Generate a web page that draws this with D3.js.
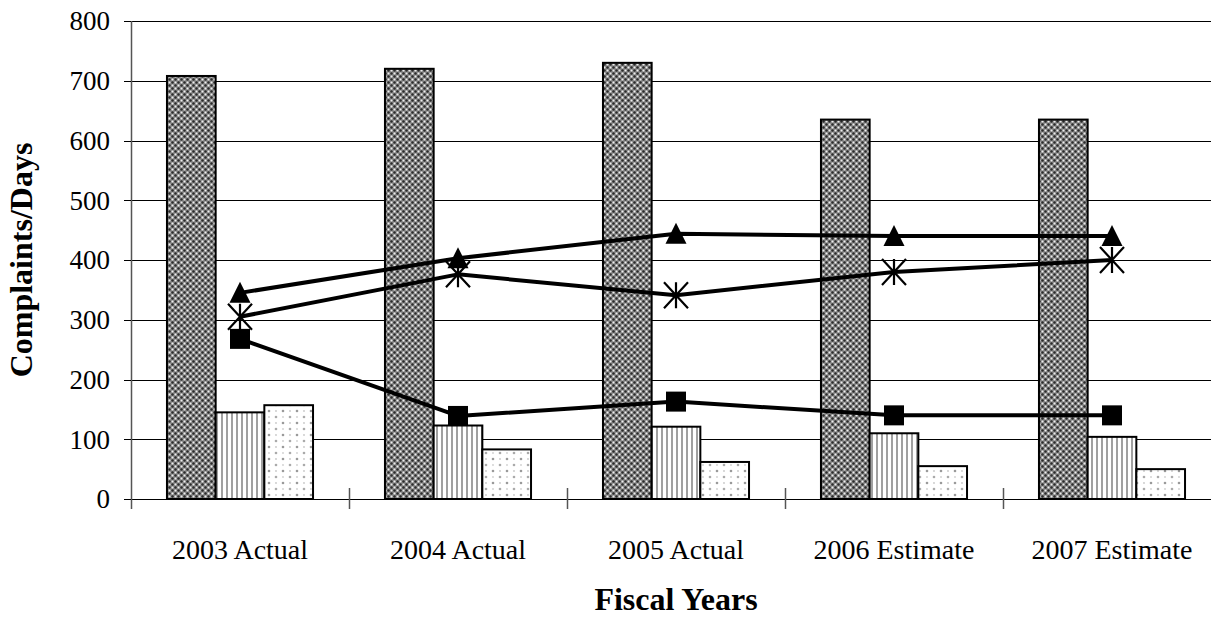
<!DOCTYPE html>
<html><head><meta charset="utf-8">
<script src="https://cdn.jsdelivr.net/npm/d3@7"></script>
<style>body{margin:0;background:#fff}svg{display:block}</style>
</head><body>
<svg id="c" width="1211" height="617"></svg>
<script>
const categories = ["2003 Actual","2004 Actual","2005 Actual","2006 Estimate","2007 Estimate"];
const barSeries = ["checker","stripes","dots"];
const checkerValues = [708, 720, 730, 635, 635];
const stripeValues = [145, 123, 121, 110, 104];
const dotValues = [157, 83, 62, 55, 50];
const triangleValues = [345, 403, 444, 440, 440];
const starValues = [305, 376, 341, 380, 400];
const squareValues = [268, 139, 163, 140, 140];
const yTicks = [0,100,200,300,400,500,600,700,800];
const xTitle = "Fiscal Years";
const yTitle = "Complaints/Days";

const svg = d3.select("#c");
const font = "Liberation Serif";
const defs = svg.append("defs");
// checker pattern
const p1 = defs.append("pattern").attr("id","pChecker").attr("patternUnits","userSpaceOnUse").attr("width",6).attr("height",6);
p1.append("rect").attr("width",6).attr("height",6).attr("fill","#8a8a8a");
p1.append("circle").attr("cx",1.5).attr("cy",1.5).attr("r",1.2).attr("fill","#2a2a2a");
p1.append("circle").attr("cx",4.5).attr("cy",4.5).attr("r",1.2).attr("fill","#2a2a2a");
p1.append("circle").attr("cx",4.5).attr("cy",1.5).attr("r",1.0).attr("fill","#eeeeee");
p1.append("circle").attr("cx",1.5).attr("cy",4.5).attr("r",1.0).attr("fill","#eeeeee");
// stripes
const p2 = defs.append("pattern").attr("id","pStripes").attr("patternUnits","userSpaceOnUse").attr("width",5).attr("height",10);
p2.append("rect").attr("width",5).attr("height",10).attr("fill","#fff");
p2.append("rect").attr("x",1).attr("width",2).attr("height",10).attr("fill","#a0a0a0");
// dots
const p3 = defs.append("pattern").attr("id","pDots").attr("patternUnits","userSpaceOnUse").attr("width",14).attr("height",12);
p3.append("rect").attr("width",14).attr("height",12).attr("fill","#fff");
p3.append("circle").attr("cx",3).attr("cy",3).attr("r",1.3).attr("fill","#9a9a9a");
p3.append("circle").attr("cx",10).attr("cy",9).attr("r",1.3).attr("fill","#aaa");
p3.append("circle").attr("cx",10).attr("cy",3).attr("r",0.9).attr("fill","#c8c8c8");
p3.append("circle").attr("cx",3).attr("cy",9).attr("r",0.9).attr("fill","#d0d0d0");

const fills = {checker:"url(#pChecker)", stripes:"url(#pStripes)", dots:"url(#pDots)"};
const barData = {checker:checkerValues, stripes:stripeValues, dots:dotValues};

const x0 = d3.scaleBand().domain(categories).range([131, 1221]).padding(0);
const bw = x0.bandwidth();
const x1 = d3.scaleBand().domain(barSeries).range([bw*0.165, bw*0.835]).padding(0);
const y = d3.scaleLinear().domain([0,800]).range([499, 21]);

// gridlines
svg.append("g").selectAll("line").data(yTicks.filter(d=>d>0)).join("line")
  .attr("x1",131).attr("x2",1221).attr("y1",d=>Math.round(y(d))+0.5).attr("y2",d=>Math.round(y(d))+0.5)
  .attr("stroke","#000").attr("stroke-width",1);

// bars
const gb = svg.append("g");
categories.forEach((c,i)=>{
  barSeries.forEach(s=>{
    const v = barData[s][i];
    gb.append("rect")
      .attr("x", x0(c)+x1(s)).attr("width", x1.bandwidth())
      .attr("y", y(v)).attr("height", y(0)-y(v))
      .attr("fill", fills[s]).attr("stroke","#000").attr("stroke-width",2);
  });
});

// axes
const ax = svg.append("g");
ax.append("line").attr("x1",131).attr("x2",1221).attr("y1",499.5).attr("y2",499.5).attr("stroke","#000").attr("stroke-width",1.2);
ax.append("line").attr("x1",131.5).attr("x2",131.5).attr("y1",21).attr("y2",509).attr("stroke","#555").attr("stroke-width",1.5);
ax.selectAll(".yt").data(yTicks).join("line").attr("class","yt")
  .attr("x1",124).attr("x2",131).attr("y1",d=>Math.round(y(d))+0.5).attr("y2",d=>Math.round(y(d))+0.5).attr("stroke","#000");
ax.selectAll(".xt").data(categories.slice(1)).join("line").attr("class","xt")
  .attr("x1",d=>Math.round(x0(d))+0.5).attr("x2",d=>Math.round(x0(d))+0.5).attr("y1",488).attr("y2",509).attr("stroke","#555").attr("stroke-width",1.5);
ax.selectAll(".yl").data(yTicks).join("text").attr("class","yl")
  .attr("x",110).attr("y",d=>y(d)).attr("dy","0.35em").attr("text-anchor","end")
  .attr("font-family",font).attr("font-size",27).text(d=>d);
ax.selectAll(".xl").data(categories).join("text").attr("class","xl")
  .attr("x",d=>x0(d)+bw/2).attr("y",559).attr("text-anchor","middle")
  .attr("font-family",font).attr("font-size",28).text(d=>d);
svg.append("text").attr("x",676).attr("y",610).attr("text-anchor","middle")
  .attr("font-family",font).attr("font-size",32).attr("font-weight","bold").text(xTitle);
svg.append("text").attr("transform","translate(32,260) rotate(-90)").attr("text-anchor","middle")
  .attr("font-family",font).attr("font-size",32).attr("font-weight","bold").text(yTitle);

// lines
const cx = c => x0(c)+bw/2;
const lineGen = d3.line().x((d,i)=>cx(categories[i])).y(d=>y(d));
const gl = svg.append("g");
[triangleValues, starValues, squareValues].forEach(vals=>{
  gl.append("path").datum(vals).attr("d",lineGen).attr("fill","none").attr("stroke","#000").attr("stroke-width",4).attr("stroke-linejoin","round");
});
// markers
gl.selectAll(".tri").data(triangleValues).join("path").attr("class","tri")
  .attr("d",(d,i)=>{const X=cx(categories[i]),Y=y(d);return `M${X},${Y-11}L${X+10.5},${Y+10}L${X-10.5},${Y+10}Z`;})
  .attr("fill","#000");
gl.selectAll(".sq").data(squareValues).join("rect").attr("class","sq")
  .attr("x",(d,i)=>cx(categories[i])-10).attr("y",d=>y(d)-10).attr("width",20).attr("height",20).attr("fill","#000");
gl.selectAll(".st").data(starValues).join("path").attr("class","st")
  .attr("d",(d,i)=>{const X=cx(categories[i]),Y=y(d);return `M${X-12},${Y-13}L${X+12},${Y+13}M${X+12},${Y-13}L${X-12},${Y+13}M${X},${Y-13}L${X},${Y+13}`;})
  .attr("stroke","#000").attr("stroke-width",2.2).attr("fill","none");
</script>
</body></html>
